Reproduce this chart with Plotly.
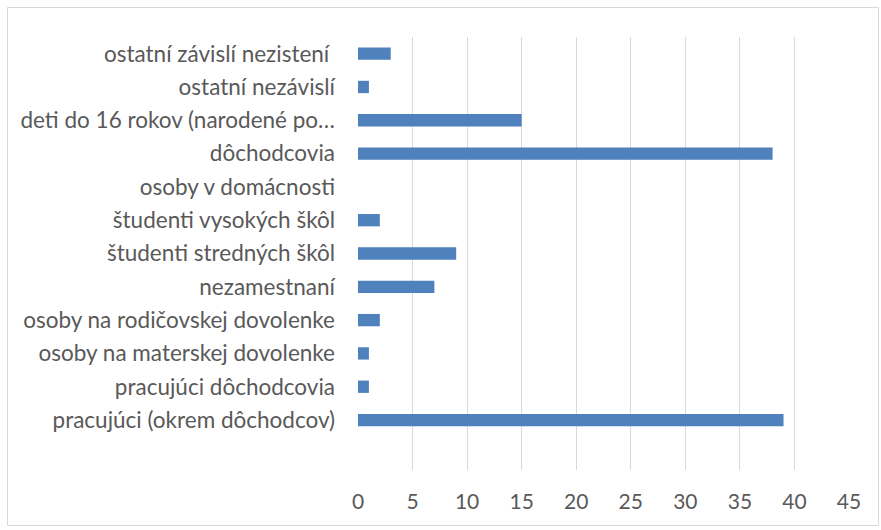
import plotly.graph_objects as go

categories = [
    "pracujúci (okrem dôchodcov)",
    "pracujúci dôchodcovia",
    "osoby na materskej dovolenke",
    "osoby na rodičovskej dovolenke",
    "nezamestnaní",
    "študenti stredných škôl",
    "študenti vysokých škôl",
    "osoby v domácnosti",
    "dôchodcovia",
    "deti do 16 rokov (narodené po…",
    "ostatní nezávislí",
    "ostatní závislí nezistení ",
]
values = [39, 1, 1, 2, 7, 9, 2, 0, 38, 15, 1, 3]
x_ticks = [0, 5, 10, 15, 20, 25, 30, 35, 40, 45]

W, H = 881, 530
L, R, T, B = 358, 32, 37, 60

fig = go.Figure(go.Bar(
    x=values, y=categories, orientation="h",
    marker=dict(color="#4F81BD", line=dict(width=0)),
    width=0.37,
))

fig.update_layout(
    width=W, height=H,
    margin=dict(l=L, r=R, t=T, b=B),
    paper_bgcolor="white", plot_bgcolor="white",
    font=dict(family="Lato, Open Sans, sans-serif", size=22, color="#595959"),
    showlegend=False,
    xaxis=dict(range=[0, 45], tickvals=x_ticks, showgrid=True, gridcolor="#D9D9D9",
               gridwidth=1, zeroline=False, showline=False, ticks="",
               ticklabelstandoff=17, tickfont=dict(size=21, color="#595959")),
    yaxis=dict(type="category", categoryorder="array", categoryarray=categories,
               range=[-1.5, 11.5], showgrid=False, zeroline=False, showline=False,
               ticks="", ticklabelstandoff=22, tickfont=dict(size=22.5, color="#595959")),
)

pw = W - L - R
ph = H - T - B
def px_x(p):
    return (p - L) / pw
def px_y(p):
    return (H - B - p) / ph

fig.add_shape(type="rect", xref="paper", yref="paper",
              x0=px_x(7.5), x1=px_x(878.5), y0=px_y(7.5), y1=px_y(525.5),
              line=dict(color="#D9D9D9", width=1), fillcolor="rgba(0,0,0,0)", layer="below")

fig.write_html("out.html", config={"displayModeBar": False},
               post_script="document.body.style.margin='0';document.body.style.overflow='hidden';")
